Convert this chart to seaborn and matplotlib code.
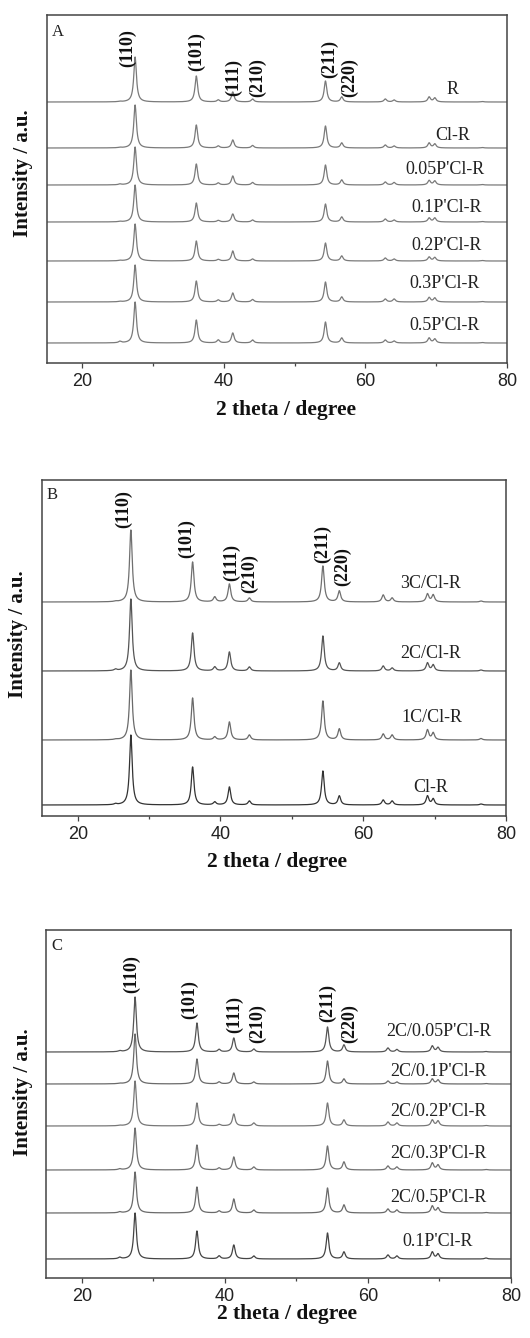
import numpy as np
import pandas as pd
import matplotlib
matplotlib.use("Agg")
import matplotlib.pyplot as plt
from matplotlib.ticker import MultipleLocator
import seaborn as sns

# ---------------- data ----------------
# peak centres (2 theta, degree) of the rutile reflections seen in all patterns
peak_pos = [25.3, 27.45, 36.1, 39.2, 41.25, 44.05, 54.35, 56.65, 62.8, 64.05, 69.0, 69.8, 76.5]
peak_fwhm = 0.45

# panel A: sample names, peak heights (a.u.) and stacking offsets
samples_A = ["R", "Cl-R", "0.05P'Cl-R", "0.1P'Cl-R", "0.2P'Cl-R", "0.3P'Cl-R", "0.5P'Cl-R"]
heights_A = [
    [0.5, 45, 26, 2.0, 10, 3.0, 21, 5, 3, 2.0, 5.0, 4.0, 0.5],
    [0.5, 43, 23, 2.0, 8, 2.5, 22, 5, 3, 2.0, 5.0, 4.0, 0.5],
    [0.8, 38, 21, 2.0, 9, 2.5, 20, 5, 3, 2.5, 4.5, 4.0, 0.5],
    [0.5, 37, 19, 1.5, 8, 2.0, 18, 5, 3, 2.0, 4.0, 4.0, 0.5],
    [0.5, 37, 20, 1.5, 10, 2.0, 18, 5, 3, 2.0, 4.0, 3.5, 0.5],
    [0.5, 37, 21, 2.0, 9, 2.5, 20, 5, 3, 3.0, 4.5, 4.0, 0.5],
    [1.5, 41, 23, 3.0, 10, 3.0, 21, 5, 3, 2.0, 5.0, 4.0, 0.5],
]
offsets_A = [261, 215, 178, 141, 102, 61, 20]

# panel B
samples_B = ["3C/Cl-R", "2C/Cl-R", "1C/Cl-R", "Cl-R"]
heights_B = [
    [0.5, 72, 40, 5, 18, 4, 36, 11, 7, 4, 8, 7, 1.0],
    [1.5, 72, 38, 4, 19, 4, 35, 8, 5, 3, 8, 6, 1.0],
    [0.5, 70, 42, 3, 18, 5, 39, 11, 6, 5, 10, 7, 1.5],
    [1.0, 70, 38, 3, 18, 4, 34, 9, 5, 4, 9, 6, 1.0],
]
offsets_B = [214, 145, 76, 11]

# panel C
samples_C = ["2C/0.05P'Cl-R", "2C/0.1P'Cl-R", "2C/0.2P'Cl-R", "2C/0.3P'Cl-R", "2C/0.5P'Cl-R", "0.1P'Cl-R"]
heights_C = [
    [1.0, 55, 29, 2.5, 14, 3, 25, 7, 4, 2.5, 6, 4.5, 0.5],
    [0.5, 50, 25, 2.0, 11, 2, 23, 5, 3, 2.0, 5, 4.0, 0.5],
    [0.5, 45, 23, 1.5, 12, 3, 23, 6, 4, 3.0, 6, 5.0, 0.5],
    [1.0, 42, 25, 2.0, 13, 3, 24, 8, 4, 3.0, 7, 5.0, 0.5],
    [1.0, 41, 26, 2.0, 14, 3, 25, 8, 4, 3.0, 7, 5.0, 0.5],
    [1.5, 46, 28, 3.0, 14, 3, 26, 7, 4, 3.0, 7, 5.0, 1.0],
]
offsets_C = [226, 194, 152, 108, 65, 19]

miller = ["(110)", "(101)", "(111)", "(210)", "(211)", "(220)"]

tick_values = [20, 40, 60, 80]

# ---------------- layout (positions / styles) ----------------
panel_letters = ["A", "B", "C"]
ylims = [348, 336, 348]
axes_rects = [
    [47 / 530, 1 - 363 / 1338, 460 / 530, 348 / 1338],
    [42 / 530, 1 - 816 / 1338, 464 / 530, 336 / 1338],
    [46 / 530, 1 - 1278 / 1338, 465 / 530, 348 / 1338],
]
# miller label positions (x centre, y bottom) per panel
miller_xy = [
    [(26.4, 296), (36.1, 292), (41.3, 267), (44.7, 266), (55.0, 285), (57.8, 266)],
    [(26.5, 288), (35.3, 258), (41.5, 235), (44.1, 223), (54.3, 253), (57.1, 230)],
    [(26.9, 285), (35.1, 259), (41.4, 245), (44.6, 235), (54.4, 256), (57.5, 235)],
]
label_xy = [
    [(72.3, 273), (72.3, 228), (71.2, 194), (71.5, 155), (71.5, 118), (71.2, 80), (71.2, 37)],
    [(69.4, 233), (69.4, 163), (69.6, 98), (69.4, 28)],
    [(69.9, 246), (69.9, 206), (69.9, 166), (69.9, 125), (69.9, 81), (69.7, 36)],
]
letter_y = [331, 321, 332]
ylabel_coords = [(-0.030, 0.546), (-0.030, 0.542), (-0.028, 0.534)]
xlabel_coords = [(0.52, -0.106), (0.506, -0.107), (0.518, -0.074)]
trace_colors = [
    ["#7a7a7a"] * 7,
    ["#707070", "#555555", "#6a6a6a", "#333333"],
    ["#555555", "#6a6a6a", "#777777", "#707070", "#6a6a6a", "#444444"],
]

# ---------------- build patterns ----------------
x_grid = np.linspace(15, 80, 2601)


def pattern(heights):
    y = np.zeros_like(x_grid)
    g = peak_fwhm / 2
    for p, h in zip(peak_pos, heights):
        y += h * g ** 2 / ((x_grid - p) ** 2 + g ** 2)
    return y


panels = [
    (samples_A, heights_A, offsets_A),
    (samples_B, heights_B, offsets_B),
    (samples_C, heights_C, offsets_C),
]

sns.set_style("white")
plt.rcParams["font.family"] = ["Liberation Serif", "DejaVu Serif"]

fig = plt.figure(figsize=(5.30, 13.38), dpi=100)

for k, (samples, heights, offsets) in enumerate(panels):
    ax = fig.add_axes(axes_rects[k])
    frames = []
    for s, h, o in zip(samples, heights, offsets):
        frames.append(pd.DataFrame({"two_theta": x_grid, "intensity": pattern(h) + o, "sample": s}))
    df = pd.concat(frames, ignore_index=True)
    pal = dict(zip(samples, trace_colors[k]))
    sns.lineplot(data=df, x="two_theta", y="intensity", hue="sample", palette=pal,
                 estimator=None, sort=False, legend=False, linewidth=0.9, ax=ax)

    ax.set_xlim(15, 80)
    ax.set_ylim(0, ylims[k])
    ax.set_yticks([])
    ax.set_xticks(tick_values)
    ax.xaxis.set_minor_locator(MultipleLocator(10))
    ax.tick_params(axis="x", which="major", direction="out", length=3.5, width=0.9,
                   color="#444444", bottom=True, labelsize=13, pad=4)
    ax.tick_params(axis="x", which="minor", direction="out", length=2.5, width=0.9,
                   color="#444444", bottom=True)
    for lab in ax.get_xticklabels():
        lab.set_family(["Liberation Sans", "DejaVu Sans"])
        lab.set_color("#222222")
    for sp in ax.spines.values():
        sp.set_visible(True)
        sp.set_color("#444444")
        sp.set_linewidth(1.1)

    ax.set_xlabel("2 theta / degree", fontsize=15.5, fontweight="bold", color="#111111")
    ax.xaxis.set_label_coords(*xlabel_coords[k])
    ax.set_ylabel("Intensity / a.u.", fontsize=15, fontweight="bold", color="#111111")
    ax.yaxis.set_label_coords(*ylabel_coords[k])

    ax.text(15.7, letter_y[k], panel_letters[k], fontsize=12, ha="left", va="center", color="#222222")

    for m, (mx, my) in zip(miller, miller_xy[k]):
        ax.text(mx, my, m, rotation=90, fontsize=13, fontweight="bold", ha="center",
                va="bottom", color="#111111")
    for s, (lx, ly) in zip(samples, label_xy[k]):
        ax.text(lx, ly, s, fontsize=13, ha="center", va="center", color="#222222")

fig.savefig("out.png", dpi=100)
